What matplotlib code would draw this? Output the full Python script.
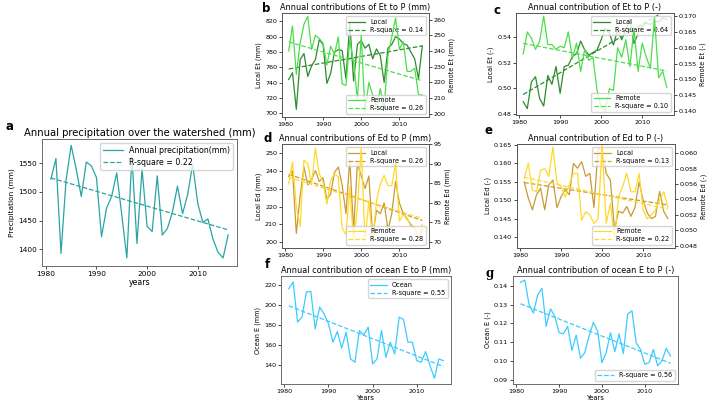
import numpy as np
import matplotlib
matplotlib.use("Agg")
import matplotlib.pyplot as plt

# years 1981-2016
years = np.arange(1981, 2017)

# a: annual precipitation (mm)
precip = [1522, 1558, 1393, 1520, 1581, 1540, 1492, 1552, 1545, 1525,
          1422, 1472, 1492, 1533, 1460, 1385, 1562, 1410, 1540, 1440,
          1431, 1528, 1425, 1436, 1465, 1510, 1462, 1495, 1548, 1480,
          1447, 1453, 1418, 1395, 1385, 1425]

# b: Et contribution (mm)
et_local_mm = [744, 753, 705, 770, 778, 748, 762, 770, 796, 790,
               739, 752, 780, 783, 782, 745, 818, 742, 790, 795,
               785, 790, 771, 784, 775, 740, 785, 790, 800, 797,
               791, 789, 780, 771, 745, 788]
et_remote_mm = [240, 256, 225, 245, 257, 262, 241, 250, 248, 245,
                231, 243, 238, 249, 219, 218, 247, 233, 209, 250,
                201, 220, 212, 203, 216, 203, 237, 249, 261, 241,
                246, 227, 227, 229, 212, 212]

# c: Et contribution (-)
et_local_fr = [0.4895, 0.484, 0.505, 0.509, 0.492, 0.486, 0.510, 0.503, 0.517, 0.496,
               0.517, 0.518, 0.525, 0.527, 0.537, 0.530, 0.526, 0.528, 0.530, 0.538,
               0.547, 0.543, 0.534, 0.546, 0.538, 0.546, 0.554, 0.535, 0.543, 0.549,
               0.551, 0.550, 0.553, 0.552, 0.555, 0.554]
et_remote_fr = [0.158, 0.165, 0.163, 0.1595, 0.162, 0.170, 0.161, 0.161, 0.1595, 0.1605,
                0.160, 0.165, 0.1565, 0.1615, 0.1525, 0.1595, 0.156, 0.157, 0.1465, 0.141,
                0.140, 0.147, 0.1465, 0.160, 0.157, 0.1625, 0.154, 0.166, 0.1525, 0.1615,
                0.157, 0.1535, 0.1695, 0.1505, 0.1525, 0.1475]

# d: Ed contribution (mm)
ed_local_mm = [236.7, 240, 205, 226, 242, 232, 235, 240, 234, 236,
               224, 227, 239, 242, 232, 216, 246, 207, 244, 237,
               230, 237, 203, 218, 216, 222, 207, 216, 234, 222,
               216, 213, 210, 208, 203, 207]
ed_remote_mm = [84.8, 90.4, 79.2, 74.0, 90.9, 90.0, 84.8, 93.9, 87.4, 85.3,
                79.7, 85.7, 87.4, 86.6, 73.6, 71.9, 84.0, 70.2, 78.8, 93.9,
                70.2, 80.5, 70.2, 80.5, 84.8, 87.0, 84.4, 84.4, 90.0, 75.3,
                77.1, 76.2, 74.0, 73.6, 71.0, 74.5]

# e: Ed contribution (-)
ed_local_fr = [0.155, 0.1506, 0.1474, 0.1515, 0.1533, 0.1474, 0.1542, 0.1555, 0.148, 0.151,
               0.1528, 0.1515, 0.160, 0.1587, 0.1605, 0.1565, 0.1573, 0.148, 0.164, 0.1636,
               0.1573, 0.1555, 0.142, 0.147, 0.1465, 0.1483, 0.1456, 0.148, 0.155, 0.150,
               0.1465, 0.145, 0.1456, 0.1524, 0.147, 0.145]
ed_remote_fr = [0.0567, 0.0587, 0.0552, 0.055, 0.0578, 0.058, 0.057, 0.0608, 0.0561, 0.0557,
                0.0543, 0.0559, 0.0574, 0.0574, 0.0513, 0.0524, 0.052, 0.0509, 0.0515, 0.061,
                0.0509, 0.0535, 0.0487, 0.0543, 0.0557, 0.0574, 0.055, 0.055, 0.0574, 0.0526,
                0.0515, 0.052, 0.0526, 0.0539, 0.055, 0.053]

# f, g: ocean E
ocean_mm = [216, 222.7, 182.7, 187.7, 212.7, 213.3, 176, 197.7, 191, 181,
            162.7, 173.3, 156.7, 172.7, 146, 142.7, 174.3, 170, 177.7, 141,
            146, 174.3, 147.7, 162.7, 151, 187.7, 185.3, 162.7, 162.7, 144.3,
            142.7, 153.3, 139.3, 126.7, 146, 144.3]
ocean_fr = [0.1418, 0.143, 0.130, 0.1255, 0.135, 0.1386, 0.1184, 0.1277, 0.1237, 0.115,
            0.1144, 0.1184, 0.1056, 0.1137, 0.1014, 0.1044, 0.1132, 0.1205, 0.1158, 0.0991,
            0.1044, 0.115, 0.1049, 0.1144, 0.1039, 0.1249, 0.1267, 0.1096, 0.1061, 0.0982,
            0.0991, 0.1061, 0.0974, 0.100, 0.1067, 0.1026]

W, H = 709, 404
fig = plt.figure(figsize=(W / 100, H / 100), dpi=100)

TEAL = '#2aa3a3'
GREEN_D = '#2e8b2e'
GREEN_L = '#4ddd4d'
GOLD_D = '#c99a35'
GOLD_L = '#ffd92a'
SKY = '#3ccbff'


def box(left, top, right, bottom):
    # pixel box -> figure fraction
    return [left / W, 1 - bottom / H, (right - left) / W, (bottom - top) / H]


def trend(y):
    p = np.polyfit(years, y, 1)
    return np.polyval(p, years)


def style(ax, fs=4.6):
    ax.tick_params(labelsize=fs, length=2, width=0.5, pad=1.5)
    for s in ax.spines.values():
        s.set_linewidth(0.6)
        s.set_color('#555555')
    ax.set_xticks([1980, 1990, 2000, 2010])


def label(x, y, t, serif=False):
    fig.text(x / W, 1 - y / H, t, fontsize=8.5, fontweight='bold',
             family='DejaVu Serif' if serif else 'DejaVu Sans',
             ha='left', va='center')


# ---- a
ax = fig.add_axes(box(42, 139, 237, 266))
ax.plot(years, precip, color=TEAL, lw=0.9, label='Annual precipitation(mm)')
ax.plot(years, trend(precip), '--', color=TEAL, lw=0.9, label='R-square = 0.22')
ax.set_ylim(1371, 1592)
ax.set_yticks([1400, 1450, 1500, 1550])
style(ax, 5.3)
ax.set_title('Annual precipitation over the watershed (mm)', fontsize=7.2, pad=2)
ax.set_ylabel('Precipitation (mm)', fontsize=5.3, labelpad=2)
ax.set_xlabel('years', fontsize=5.6, labelpad=1)
ax.legend(loc='upper right', fontsize=5.7, handlelength=2.5, borderpad=0.4,
          labelspacing=0.3)
label(5, 127, 'a')


def twin_panel(pos, loc_y, rem_y, c_loc, c_rem, title, ylab1, ylab2,
               lim1, lim2, r1, r2, yt2=None):
    ax1 = fig.add_axes(box(*pos))
    ax1.plot(years, loc_y, color=c_loc, lw=0.9, label='Local')
    ax1.plot(years, trend(loc_y), '--', color=c_loc, lw=0.9, label=r1)
    ax1.set_ylim(*lim1)
    style(ax1)
    ax1.set_title(title, fontsize=5.9, pad=2)
    ax1.set_ylabel(ylab1, fontsize=4.7, labelpad=2)
    ax2 = ax1.twinx()
    ax2.plot(years, rem_y, color=c_rem, lw=0.9, label='Remote')
    ax2.plot(years, trend(rem_y), '--', color=c_rem, lw=0.9, label=r2)
    ax2.set_ylim(*lim2)
    if yt2 is not None:
        ax2.set_yticks(yt2)
    style(ax2)
    ax2.set_ylabel(ylab2, fontsize=4.7, labelpad=2)
    kw = dict(fontsize=4.7, handlelength=2.5, borderpad=0.4, labelspacing=0.3)
    ax1.legend(loc='upper right', **kw)
    ax2.legend(loc='lower right', **kw)
    return ax1, ax2


# ---- b
twin_panel((282, 13, 429, 117), et_local_mm, et_remote_mm, GREEN_D, GREEN_L,
           'Annual contributions of Et to P (mm)', 'Local Et (mm)', 'Remote Et (mm)',
           (695, 831), (197.9, 264.2), 'R-square = 0.14', 'R-square = 0.26')
label(262, 9, 'b')

# ---- c
twin_panel((516, 13, 674, 115), et_local_fr, et_remote_fr, GREEN_D, GREEN_L,
           'Annual contribution of Et to P (-)', 'Local Et (-)', 'Remote Et (-)',
           (0.479, 0.559), (0.1387, 0.171), 'R-square = 0.64', 'R-square = 0.10')
label(494, 11, 'c')

# ---- d
twin_panel((282, 144, 429, 248), ed_local_mm, ed_remote_mm, GOLD_D, GOLD_L,
           'Annual contributions of Ed to P (mm)', 'Local Ed (mm)', 'Remote Ed (mm)',
           (196.9, 254.8), (68.5, 95.0), 'R-square = 0.26', 'R-square = 0.28',
           yt2=[70, 75, 80, 85, 90, 95])
label(264, 138, 'd')

# ---- e
twin_panel((517, 144, 675, 248), ed_local_fr, ed_remote_fr, GOLD_D, GOLD_L,
           'Annual contribution of Ed to P (-)', 'Local Ed (-)', 'Remote Ed (-)',
           (0.137, 0.1653), (0.0477, 0.0612), 'R-square = 0.13', 'R-square = 0.22',
           yt2=[0.048, 0.050, 0.052, 0.054, 0.056, 0.058, 0.060])
label(484, 131, 'e')

# ---- f
ax = fig.add_axes(box(281, 276, 451, 384))
ax.plot(years, ocean_mm, color=SKY, lw=0.9, label='Ocean')
ax.plot(years, trend(ocean_mm), '--', color=SKY, lw=0.9, label='R-square = 0.55')
ax.set_ylim(121, 228.7)
ax.set_yticks([140, 160, 180, 200, 220])
style(ax)
ax.set_title('Annual contribution of ocean E to P (mm)', fontsize=5.9, pad=2)
ax.set_ylabel('Ocean E (mm)', fontsize=4.7, labelpad=2)
ax.set_xlabel('Years', fontsize=4.9, labelpad=1)
ax.legend(loc='upper right', fontsize=4.7, handlelength=2.5, borderpad=0.4,
          labelspacing=0.3)
label(265, 264, 'f')

# ---- g
ax = fig.add_axes(box(513, 276, 678, 384))
ax.plot(years, ocean_fr, color=SKY, lw=0.9)
ax.plot(years, trend(ocean_fr), '--', color=SKY, lw=0.9, label='R-square = 0.56')
ax.set_ylim(0.0877, 0.1452)
ax.set_yticks([0.09, 0.10, 0.11, 0.12, 0.13, 0.14])
style(ax)
ax.set_title('Annual contribution of ocean E to P (-)', fontsize=5.9, pad=2)
ax.set_ylabel('Ocean E (-)', fontsize=4.7, labelpad=2)
ax.set_xlabel('Years', fontsize=4.9, labelpad=1)
ax.legend(loc='lower right', fontsize=4.7, handlelength=2.5, borderpad=0.4)
label(485, 274, 'g', serif=True)

fig.savefig('out.png', dpi=100)
